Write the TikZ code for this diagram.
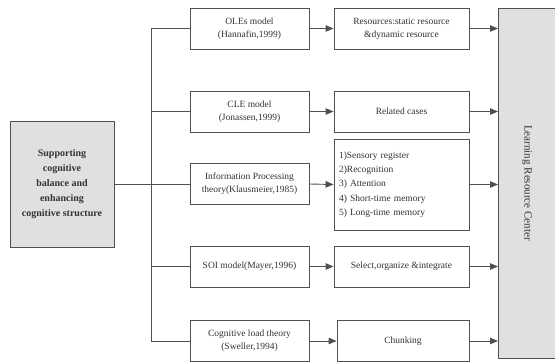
\documentclass[tikz,border=0pt]{standalone}
\usepackage{fontspec}
\setmainfont{Liberation Serif}
\usetikzlibrary{arrows.meta}
\definecolor{linec}{HTML}{505050}
\definecolor{boxfill}{HTML}{E0E0E0}
\definecolor{txt}{HTML}{333333}
\tikzset{
  bx/.style={draw=linec, line width=0.9pt, fill=white, text=txt, align=center, inner sep=2pt,
    font=\fontsize{9.5}{13}\selectfont},
  midbox/.style={bx, minimum width=119pt, minimum height=41pt},
  resbox/.style={bx, minimum width=135pt, minimum height=41pt},
  conn/.style={draw=linec, line width=0.9pt},
  arr/.style={conn, -{Triangle[length=8pt,width=6.5pt]}},
}
\begin{document}
\begin{tikzpicture}[x=1pt,y=-1pt]
\useasboundingbox (0,0) rectangle (555,362);
\clip (0,0) rectangle (555,362);
\node[bx, fill=boxfill, minimum width=104pt, minimum height=126pt,
  font=\fontsize{10}{15}\selectfont\bfseries] (sup) at (62,184)
  {Supporting\\cognitive\\balance and\\enhancing\\cognitive structure};
\node[midbox] (m1) at (249.5,28.5) {OLEs model\\(Hannafin,1999)};
\node[midbox] (m2) at (249.5,111.5) {CLE model\\(Jonassen,1999)};
\node[midbox] (m3) at (249.5,184) {Information Processing\\theory(Klausmeier,1985)};
\node[midbox] (m4) at (249.5,266.5) {SOI model(Mayer,1996)};
\node[midbox] (m5) at (249.5,341) {Cognitive load theory\\(Sweller,1994)};
\node[resbox] (r1) at (401.5,28.5) {Resources:static resource\\\&dynamic resource};
\node[resbox] (r2) at (401.5,111.5) {Related cases};
\node[resbox, minimum height=91pt, align=left, text width=125pt,
  font=\fontsize{9.5}{14.3}\selectfont] (r3) at (401.5,184.5)
  {1)Sensory register\\2)Recognition\\3) Attention\\4) Short-time memory\\5) Long-time memory};
\node[resbox] (r4) at (401.5,266.5) {Select,organize \&integrate};
\node[resbox, minimum width=132pt] (r5) at (403,341) {Chunking};
\node[draw=linec, line width=0.9pt, fill=boxfill, minimum width=70pt, minimum height=350pt,
  anchor=north west, inner sep=0pt] (lrc) at (498,8) {};
\node[rotate=-90, text=txt, font=\fontsize{11}{13}\selectfont] (lrct) at (527,183) {Learning Resource Center};
% trunk
\draw[conn] (m1.west) -- ++(-38,0) coordinate (t1) |- (m5.west);
\draw[conn] (m2.west) -- ++(-38,0);
\draw[conn] (m4.west) -- ++(-38,0);
\draw[conn] (sup.east) -- (m3.west);
% arrows
\foreach \i in {1,...,5} {
  \draw[arr] (m\i.east) -- (r\i.west);
}
\foreach \i in {1,...,5} {
  \draw[arr] (r\i.east) -- (r\i.east -| lrc.west);
}
\end{tikzpicture}
\end{document}
